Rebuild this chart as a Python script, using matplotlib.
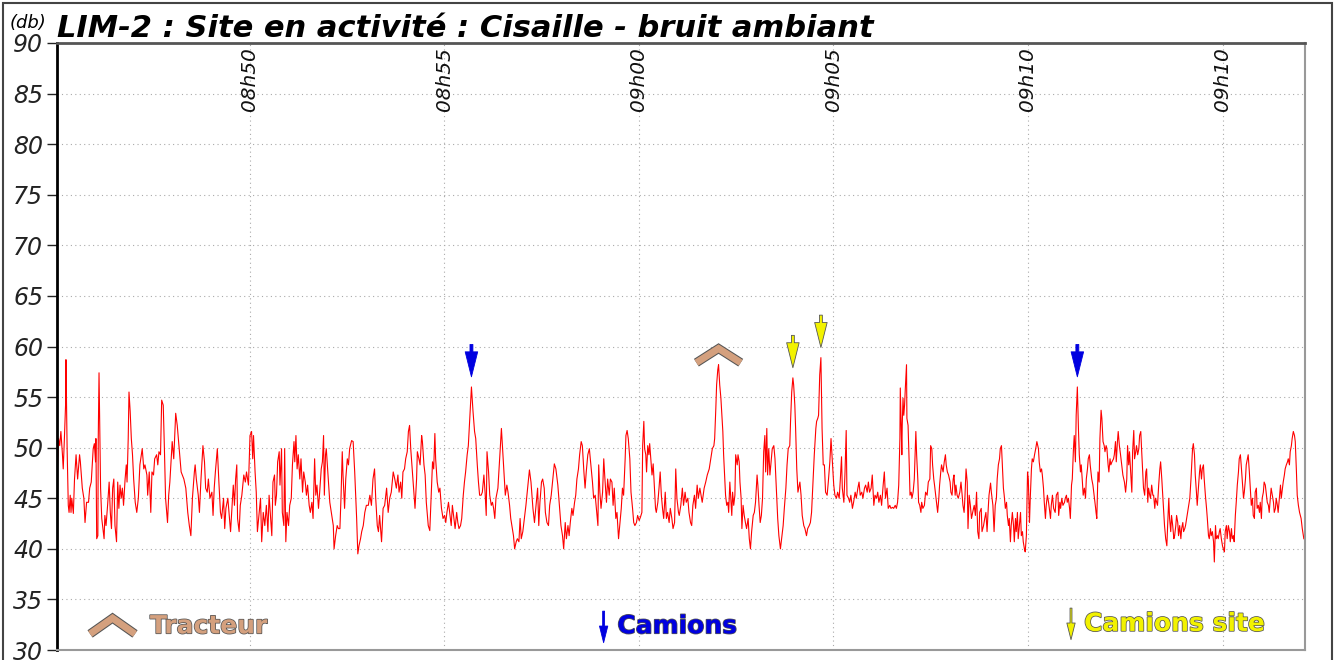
import numpy as np
import matplotlib
matplotlib.use("Agg")
import matplotlib.pyplot as plt
import matplotlib.patheffects as pe
from matplotlib.patches import Rectangle

# time in minutes after 08h45, level in dB
seg_a_t = [0.05, 0.09, 0.12, 0.15, 0.19, 0.21, 0.24, 0.27, 0.28, 0.31,
           0.34, 0.36, 0.39, 0.41, 0.43, 0.47, 0.50, 0.54, 0.58, 0.63,
           0.65, 0.70, 0.74, 0.77, 0.81, 0.86, 0.89, 0.93, 0.98, 1.01,
           1.04, 1.05, 1.07, 1.10, 1.11, 1.13, 1.15, 1.17, 1.20, 1.26,
           1.28, 1.31, 1.35, 1.39, 1.42, 1.45, 1.48, 1.51, 1.54, 1.58,
           1.61, 1.64, 1.67, 1.70, 1.73, 1.76, 1.80, 1.83, 1.85, 1.88,
           1.90, 1.93, 1.96, 1.99, 2.02, 2.06, 2.10, 2.14, 2.18, 2.24,
           2.28, 2.31, 2.36, 2.38, 2.42, 2.46, 2.49, 2.53, 2.56, 2.61,
           2.64, 2.67, 2.71, 2.74, 2.78, 2.81, 2.84, 2.89, 2.92, 2.95,
           2.98, 3.01, 3.05, 3.10, 3.14, 3.19, 3.24, 3.31, 3.36, 3.41,
           3.45, 3.49, 3.53, 3.58, 3.60, 3.63, 3.68, 3.71, 3.75, 3.80,
           3.84, 3.87, 3.91, 3.94, 3.98, 4.03, 4.06, 4.09, 4.12, 4.17,
           4.21, 4.25, 4.28, 4.33, 4.36, 4.39, 4.44, 4.47, 4.51, 4.54,
           4.58, 4.61, 4.64, 4.67, 4.69, 4.73, 4.76, 4.80, 4.85, 4.89,
           4.92, 4.97, 5.01, 5.05, 5.08, 5.10, 5.14, 5.17, 5.20, 5.24,
           5.28, 5.31]
seg_a_db = [46.9, 50.9, 50.2, 51.6, 49.3, 47.9, 50.9, 54.2, 58.7, 49.9,
            44.3, 43.6, 45.3, 43.6, 45.0, 43.5, 46.9, 49.3, 46.9, 49.3,
            48.6, 46.0, 45.0, 42.6, 44.6, 44.6, 46.0, 46.6, 49.9, 50.4,
            48.6, 50.9, 41.0, 41.3, 50.9, 57.4, 51.6, 46.0, 43.0, 41.0,
            43.3, 42.3, 44.3, 46.6, 43.6, 42.0, 46.0, 46.9, 42.3, 40.7,
            46.6, 44.0, 46.3, 45.0, 46.0, 44.3, 46.9, 48.3, 46.6, 50.9,
            55.5, 53.6, 50.9, 49.3, 46.9, 44.6, 43.6, 45.0, 48.3, 49.9,
            47.9, 48.3, 47.3, 45.3, 47.6, 43.6, 47.6, 47.3, 48.9, 49.3,
            48.3, 49.6, 49.3, 54.7, 54.2, 49.9, 45.0, 42.6, 45.3, 46.6,
            48.6, 50.6, 48.9, 53.4, 52.2, 49.9, 47.6, 46.9, 46.0, 43.6,
            42.3, 41.3, 45.0, 47.6, 48.3, 46.9, 45.3, 43.6, 46.9, 50.2,
            48.6, 46.0, 45.6, 46.9, 45.0, 45.6, 43.3, 46.0, 47.6, 49.9,
            46.6, 43.6, 43.0, 45.0, 42.0, 44.0, 45.0, 43.6, 41.7, 43.6,
            46.3, 44.3, 46.9, 48.3, 43.0, 41.7, 44.3, 45.3, 47.3, 46.6,
            47.6, 46.3, 51.2, 51.6, 48.9, 51.2, 47.6, 45.6, 41.7, 43.3,
            45.0, 40.7]

seg_b_t = [5.35, 5.39, 5.43, 5.47, 5.50, 5.54, 5.57, 5.60, 5.64, 5.66,
           5.69, 5.72, 5.76, 5.78, 5.82, 5.84, 5.88, 5.90, 5.93, 5.96,
           6.00, 6.03, 6.07, 6.10, 6.14, 6.16, 6.19, 6.22, 6.25, 6.29,
           6.32, 6.36, 6.39, 6.43, 6.46, 6.49, 6.53, 6.56, 6.60, 6.63,
           6.67, 6.70, 6.73, 6.77, 6.80, 6.84, 6.87, 6.90, 6.92, 6.95,
           6.97, 7.02, 7.06, 7.10, 7.15, 7.17, 7.21, 7.25, 7.28, 7.32,
           7.35, 7.38, 7.40, 7.44, 7.47, 7.51, 7.54, 7.57, 7.62, 7.66,
           7.70, 7.75, 7.78, 7.81, 7.85, 7.88, 7.92, 7.96, 8.00, 8.05,
           8.09, 8.13, 8.17, 8.21, 8.24, 8.28, 8.31, 8.34, 8.39, 8.43,
           8.47, 8.52, 8.56, 8.60, 8.64, 8.69, 8.73, 8.77, 8.81, 8.84,
           8.88, 8.91, 8.94, 8.98, 9.01, 9.05, 9.08, 9.11, 9.14, 9.17,
           9.20, 9.23, 9.25, 9.29, 9.31, 9.35, 9.38, 9.42, 9.44, 9.48,
           9.51, 9.54, 9.59, 9.63, 9.66, 9.70, 9.73, 9.76, 9.78, 9.82,
           9.86, 9.89, 9.93, 9.97, 10.01, 10.04, 10.07, 10.11, 10.14, 10.18,
           10.21, 10.25, 10.28, 10.32, 10.35, 10.38, 10.42, 10.45, 10.49, 10.52,
           10.55, 10.59, 10.62, 10.66, 10.70]
seg_b_db = [43.6, 42.3, 44.3, 41.7, 45.3, 43.0, 41.3, 46.6, 47.3, 44.3,
            45.3, 48.6, 49.6, 46.3, 49.9, 43.6, 42.3, 49.9, 40.7, 43.6,
            42.3, 44.3, 45.0, 48.3, 50.6, 48.6, 51.2, 47.9, 49.3, 46.9,
            48.9, 45.6, 47.6, 46.6, 45.3, 46.3, 44.3, 43.6, 44.6, 43.0,
            48.9, 45.3, 46.3, 44.0, 45.6, 47.9, 48.6, 51.2, 45.3, 49.3,
            49.9, 46.9, 44.6, 43.6, 42.3, 40.0, 41.3, 42.3, 42.0, 42.0,
            45.3, 49.6, 47.3, 44.0, 46.9, 48.9, 48.3, 49.9, 50.7, 50.6,
            47.6, 43.0, 39.5, 40.3, 41.0, 41.7, 42.3, 43.6, 44.3, 44.3,
            45.3, 44.3, 46.9, 47.9, 45.0, 42.3, 41.7, 43.3, 40.7, 44.0,
            44.3, 46.0, 43.6, 45.0, 45.6, 47.6, 46.9, 46.0, 47.3, 45.6,
            46.6, 45.0, 47.6, 47.9, 48.9, 49.6, 51.6, 52.2, 49.9, 48.3,
            46.6, 45.0, 44.0, 46.9, 49.6, 48.9, 48.3, 51.2, 50.6, 48.3,
            47.3, 44.6, 42.3, 41.8, 44.6, 48.6, 47.9, 51.4, 48.9, 46.6,
            45.6, 46.0, 44.0, 43.0, 43.3, 42.6, 43.6, 44.6, 43.6, 42.3,
            44.3, 43.0, 42.0, 43.6, 42.6, 42.0, 42.3, 43.0, 45.3, 46.6,
            47.6, 49.3, 50.2, 53.2, 56.0]

seg_c_t = [10.74, 10.78, 10.81, 10.85, 10.88, 10.91, 10.95, 10.98, 11.02, 11.05,
           11.08, 11.10, 11.14, 11.17, 11.21, 11.24, 11.27, 11.30, 11.33, 11.38,
           11.41, 11.44, 11.47, 11.50, 11.54, 11.57, 11.61, 11.64, 11.68, 11.71,
           11.74, 11.78, 11.81, 11.85, 11.88, 11.92, 11.95, 11.98, 12.02, 12.06,
           12.10, 12.15, 12.19, 12.23, 12.28, 12.32, 12.36, 12.40, 12.43, 12.46,
           12.50, 12.53, 12.57, 12.60, 12.64, 12.68, 12.71, 12.75, 12.79, 12.83,
           12.87, 12.92, 12.96, 13.00, 13.04, 13.07, 13.11, 13.14, 13.18, 13.21,
           13.24, 13.28, 13.31, 13.35, 13.38, 13.41, 13.45, 13.48, 13.52, 13.55,
           13.59, 13.62, 13.65, 13.69, 13.73, 13.77, 13.81, 13.84, 13.88, 13.91,
           13.95, 13.97, 14.00, 14.03, 14.07, 14.10, 14.13, 14.17, 14.20, 14.24,
           14.27, 14.31, 14.34, 14.37, 14.41, 14.44, 14.48, 14.51, 14.55, 14.58,
           14.61, 14.65, 14.67, 14.70, 14.73, 14.77, 14.80, 14.84, 14.87, 14.90,
           14.94, 14.97, 15.01, 15.04, 15.08, 15.10, 15.13, 15.15, 15.18, 15.20,
           15.23, 15.26, 15.28, 15.32, 15.34, 15.37, 15.40, 15.43, 15.45, 15.49,
           15.52, 15.55, 15.58, 15.61, 15.64, 15.68, 15.71, 15.74, 15.78, 15.81,
           15.85, 15.88, 15.92, 15.95, 15.98, 16.02]
seg_c_db = [53.6, 51.6, 50.9, 48.3, 46.6, 45.3, 45.3, 45.6, 47.3, 45.6,
            43.3, 49.6, 47.6, 45.3, 44.3, 44.6, 44.0, 43.0, 45.0, 46.0,
            47.9, 49.9, 51.9, 49.9, 47.3, 45.3, 46.3, 45.6, 44.3, 43.0,
            42.3, 41.3, 40.0, 40.7, 41.0, 40.7, 43.0, 41.0, 41.7, 43.0,
            44.3, 46.3, 47.8, 46.6, 44.0, 42.6, 44.3, 46.0, 42.3, 44.6,
            46.6, 46.9, 46.0, 43.6, 42.6, 42.3, 44.3, 45.3, 46.9, 48.4,
            47.9, 46.3, 44.3, 42.3, 41.3, 40.0, 42.6, 41.0, 42.3, 41.3,
            42.6, 44.0, 43.3, 44.6, 45.3, 46.9, 47.9, 49.3, 50.6, 50.2,
            47.6, 46.0, 47.6, 49.3, 49.9, 48.3, 46.6, 45.0, 45.3, 44.0,
            42.3, 48.3, 45.6, 44.0, 45.6, 48.9, 46.9, 44.6, 46.9, 45.3,
            46.9, 46.6, 44.3, 46.0, 43.0, 43.6, 41.0, 42.3, 44.0, 46.0,
            45.3, 48.9, 51.2, 51.7, 50.9, 48.9, 45.6, 44.0, 42.6, 42.3,
            42.6, 43.3, 42.8, 43.1, 43.6, 50.2, 52.6, 49.9, 49.3, 47.6,
            50.2, 49.3, 50.4, 48.3, 47.3, 48.4, 46.3, 44.0, 43.6, 44.6,
            46.0, 47.6, 45.3, 44.0, 43.0, 45.6, 43.0, 43.6, 42.6, 44.0,
            43.0, 42.0, 42.6, 47.9, 45.0, 43.6]

seg_d_t = [16.04, 16.08, 16.12, 16.15, 16.19, 16.22, 16.26, 16.29, 16.33, 16.36,
           16.39, 16.43, 16.46, 16.50, 16.53, 16.57, 16.60, 16.63, 16.68, 16.72,
           16.76, 16.81, 16.85, 16.89, 16.93, 16.95, 16.98, 17.00, 17.03, 17.05,
           17.08, 17.11, 17.13, 17.16, 17.18, 17.21, 17.23, 17.26, 17.29, 17.31,
           17.34, 17.36, 17.39, 17.41, 17.44, 17.47, 17.49, 17.53, 17.55, 17.58,
           17.60, 17.63, 17.65, 17.68, 17.71, 17.74, 17.77, 17.81, 17.84, 17.87,
           17.90, 17.94, 17.97, 18.00, 18.04, 18.06, 18.09, 18.12, 18.15, 18.18,
           18.21, 18.24, 18.26, 18.29, 18.31, 18.34, 18.37, 18.40, 18.43, 18.47,
           18.50, 18.54, 18.57, 18.60, 18.64, 18.67, 18.71, 18.74, 18.78, 18.81,
           18.84, 18.88, 18.90, 18.93, 18.96, 18.98, 19.01, 19.03, 19.06, 19.09,
           19.14, 19.17, 19.20, 19.24, 19.27, 19.31, 19.34, 19.38, 19.41, 19.44,
           19.48, 19.51, 19.55, 19.57, 19.60, 19.62, 19.65, 19.68, 19.71, 19.74,
           19.77, 19.80, 19.84, 19.87, 19.91, 19.94, 19.98, 20.01, 20.04, 20.08,
           20.11, 20.15, 20.18, 20.21, 20.23, 20.27, 20.30, 20.33, 20.35, 20.39,
           20.42, 20.45, 20.49, 20.52, 20.56, 20.59, 20.63, 20.66, 20.69, 20.73,
           20.76, 20.80, 20.83, 20.87, 20.90, 20.93, 20.97, 21.00, 21.04, 21.07,
           21.11, 21.14, 21.17, 21.21, 21.24, 21.28, 21.31, 21.34]
seg_d_db = [43.3, 44.3, 46.0, 44.3, 45.6, 44.6, 45.0, 43.6, 42.6, 42.3,
            44.3, 45.3, 44.0, 46.3, 45.0, 46.0, 45.3, 44.6, 46.0, 46.6,
            47.3, 47.9, 48.9, 49.9, 50.2, 50.9, 53.9, 56.2, 57.7, 58.2,
            56.2, 54.9, 53.6, 51.6, 49.3, 46.9, 45.3, 44.3, 44.6, 43.6,
            46.6, 45.3, 43.3, 45.6, 44.3, 45.3, 49.3, 48.3, 49.3, 48.6,
            46.6, 45.0, 42.0, 44.3, 43.3, 42.6, 42.0, 43.0, 41.0, 40.0,
            41.7, 43.3, 43.6, 44.6, 47.3, 46.3, 44.3, 42.6, 43.3, 45.0,
            49.6, 51.2, 47.6, 51.9, 47.3, 49.9, 47.3, 48.6, 49.9, 50.2,
            48.9, 45.6, 43.0, 41.3, 40.0, 41.0, 42.3, 44.0, 46.0, 48.3,
            49.9, 50.2, 52.6, 55.5, 56.9, 56.2, 54.2, 51.9, 47.9, 45.6,
            46.6, 45.3, 43.3, 42.3, 42.0, 41.3, 42.0, 42.3, 42.6, 43.6,
            46.9, 49.3, 51.9, 52.6, 52.9, 53.2, 57.2, 58.9, 51.9, 48.3,
            48.3, 45.6, 45.3, 46.6, 48.6, 50.9, 48.3, 46.3, 45.3, 45.0,
            45.6, 45.0, 46.9, 49.1, 46.0, 44.6, 47.6, 51.7, 45.3, 45.0,
            44.6, 45.3, 44.0, 44.6, 45.6, 45.0, 46.0, 46.6, 45.3, 45.6,
            45.0, 46.0, 46.3, 45.6, 46.6, 45.6, 46.0, 47.3, 44.3, 45.3,
            45.0, 45.6, 44.6, 45.3, 44.3, 46.3, 47.6, 45.0]

seg_e_t = [21.38, 21.41, 21.45, 21.48, 21.52, 21.55, 21.59, 21.62, 21.65, 21.68,
           21.71, 21.72, 21.74, 21.76, 21.77, 21.79, 21.81, 21.83, 21.85, 21.88,
           21.89, 21.92, 21.95, 21.97, 22.00, 22.02, 22.05, 22.08, 22.12, 22.14,
           22.17, 22.19, 22.22, 22.25, 22.27, 22.30, 22.34, 22.37, 22.41, 22.44,
           22.48, 22.50, 22.53, 22.55, 22.58, 22.60, 22.63, 22.66, 22.68, 22.71,
           22.73, 22.76, 22.78, 22.82, 22.85, 22.88, 22.90, 22.93, 22.96, 23.00,
           23.02, 23.05, 23.08, 23.10, 23.13, 23.15, 23.18, 23.21, 23.25, 23.28,
           23.31, 23.33, 23.36, 23.38, 23.41, 23.44, 23.46, 23.49, 23.52, 23.55,
           23.58, 23.62, 23.65, 23.68, 23.71, 23.74, 23.76, 23.80, 23.82, 23.86,
           23.89, 23.92, 23.95, 23.98, 24.00, 24.04, 24.06, 24.10, 24.13, 24.16,
           24.19, 24.21, 24.24, 24.27, 24.29, 24.32, 24.34, 24.37, 24.39, 24.42,
           24.45, 24.47, 24.50, 24.52, 24.55, 24.57, 24.60, 24.63, 24.65, 24.68,
           24.70, 24.73, 24.75, 24.78, 24.81, 24.83, 24.86, 24.88, 24.91, 24.93,
           24.96, 24.99, 25.01, 25.04, 25.06, 25.09, 25.11, 25.14, 25.17, 25.20,
           25.23, 25.27, 25.29, 25.32, 25.35, 25.37, 25.40, 25.42, 25.45, 25.47,
           25.50, 25.53, 25.55, 25.58, 25.60, 25.63, 25.66, 25.70, 25.73, 25.77,
           25.79, 25.82, 25.84, 25.87, 25.90, 25.94, 25.96, 25.99, 26.01, 26.04,
           26.07, 26.09, 26.12, 26.14, 26.17, 26.19, 26.22, 26.24, 26.27, 26.30,
           26.32, 26.35, 26.37, 26.40, 26.42, 26.45, 26.48, 26.50, 26.53, 26.55,
           26.58, 26.60, 26.64, 26.67, 26.71, 26.74]
seg_e_db = [46.0, 44.0, 44.3, 44.0, 44.1, 44.0, 44.3, 44.0, 44.6, 46.3,
            50.9, 55.9, 52.6, 49.3, 52.2, 54.9, 53.2, 54.2, 55.9, 58.2,
            52.9, 52.2, 48.3, 45.3, 45.6, 45.0, 45.6, 46.9, 51.6, 49.3,
            46.9, 44.6, 44.3, 43.6, 44.6, 44.0, 44.3, 45.6, 45.3, 46.6,
            46.9, 50.2, 49.9, 48.3, 46.9, 46.3, 45.3, 44.3, 43.6, 45.0,
            46.3, 47.6, 48.3, 47.6, 48.6, 49.3, 48.3, 47.6, 47.3, 46.6,
            45.6, 45.3, 46.9, 47.3, 45.3, 46.3, 45.3, 45.0, 45.6, 46.6,
            45.3, 44.3, 43.6, 45.0, 47.9, 46.6, 42.0, 45.3, 44.3, 43.0,
            43.6, 44.3, 43.3, 45.6, 41.7, 41.0, 43.6, 44.0, 41.7, 42.3,
            43.0, 43.6, 41.7, 44.0, 45.3, 46.5, 45.6, 44.3, 41.7, 44.3,
            45.0, 46.9, 48.3, 48.9, 49.9, 50.2, 48.6, 46.0, 45.3, 44.0,
            44.6, 43.3, 42.3, 43.0, 40.7, 42.3, 43.6, 42.3, 40.7, 43.0,
            41.7, 43.6, 41.0, 42.3, 43.6, 41.3, 41.7, 40.7, 40.0, 39.7,
            41.3, 47.6, 46.9, 42.6, 45.0, 47.9, 48.9, 48.6, 49.3, 49.9,
            50.6, 49.9, 48.6, 47.6, 47.9, 47.3, 46.0, 44.6, 43.0, 44.3,
            45.3, 44.6, 44.0, 43.0, 44.3, 45.3, 44.0, 43.6, 45.3, 45.6,
            43.3, 44.6, 44.0, 45.0, 44.3, 44.6, 45.0, 45.3, 44.6, 45.0,
            44.0, 43.0, 46.3, 46.9, 49.9, 51.2, 48.6, 53.2, 56.0, 51.6,
            49.3, 47.6, 48.3, 46.6, 45.3, 46.0, 45.0, 46.9, 47.9, 48.9,
            49.3, 48.3, 46.9, 46.3, 45.0, 44.0]

seg_f_t = [26.75, 26.77, 26.80, 26.83, 26.85, 26.88, 26.90, 26.93, 26.96, 26.98,
           27.01, 27.03, 27.06, 27.08, 27.11, 27.13, 27.16, 27.20, 27.22, 27.25,
           27.27, 27.30, 27.32, 27.35, 27.38, 27.41, 27.44, 27.48, 27.51, 27.54,
           27.56, 27.59, 27.61, 27.64, 27.67, 27.69, 27.72, 27.74, 27.77, 27.79,
           27.82, 27.85, 27.87, 27.90, 27.92, 27.95, 27.97, 28.00, 28.03, 28.05,
           28.08, 28.10, 28.13, 28.15, 28.18, 28.21, 28.23, 28.26, 28.28, 28.31,
           28.33, 28.36, 28.39, 28.41, 28.44, 28.46, 28.49, 28.51, 28.54, 28.57,
           28.59, 28.62, 28.64, 28.67, 28.69, 28.72, 28.75, 28.77, 28.80, 28.82,
           28.85, 28.87, 28.90, 28.93, 28.95, 28.98, 29.00, 29.03, 29.05, 29.09,
           29.12, 29.16, 29.19, 29.23, 29.25, 29.28, 29.30, 29.33, 29.35, 29.38,
           29.41, 29.43, 29.46, 29.48, 29.51, 29.53, 29.56, 29.59, 29.61, 29.64,
           29.66, 29.69, 29.71, 29.74, 29.77, 29.79, 29.82, 29.84, 29.87, 29.89,
           29.92, 29.94, 29.97, 30.00, 30.02, 30.05, 30.07, 30.10, 30.12, 30.15,
           30.18, 30.20, 30.23, 30.25, 30.28, 30.30, 30.33, 30.36, 30.38, 30.41,
           30.43, 30.46, 30.48, 30.51, 30.54, 30.56, 30.59, 30.61, 30.64, 30.66,
           30.69, 30.72, 30.74, 30.77, 30.79, 30.82, 30.84, 30.87, 30.89, 30.92,
           30.95, 30.97, 31.00, 31.02, 31.05, 31.07, 31.10, 31.13, 31.15, 31.18,
           31.20, 31.23, 31.25, 31.28, 31.31, 31.33, 31.36, 31.38, 31.41, 31.43,
           31.46, 31.49, 31.51, 31.54, 31.56, 31.59, 31.61, 31.64, 31.67, 31.69,
           31.72, 31.74, 31.77, 31.79, 31.82, 31.85, 31.87, 31.90, 31.92, 31.95,
           31.98, 32.02, 32.05, 32.09]
seg_f_db = [43.6, 43.0, 47.6, 46.6, 50.9, 53.7, 52.9, 50.6, 50.2, 49.6,
            50.2, 49.9, 48.3, 47.6, 48.9, 48.3, 48.6, 48.9, 49.3, 50.6,
            48.6, 50.6, 51.6, 50.2, 49.3, 48.3, 47.3, 46.6, 45.6, 46.9,
            50.2, 48.3, 49.6, 47.6, 45.6, 49.6, 51.7, 48.9, 49.6, 50.2,
            49.3, 49.9, 51.2, 51.6, 49.9, 47.6, 46.0, 45.3, 47.6, 47.9,
            44.6, 46.0, 45.3, 45.0, 46.3, 45.3, 45.3, 44.0, 45.0, 44.6,
            44.3, 46.3, 47.9, 48.6, 46.9, 45.6, 43.6, 42.3, 41.0, 40.3,
            42.3, 45.0, 43.0, 41.7, 43.3, 42.3, 41.0, 41.3, 42.3, 43.3,
            42.6, 41.3, 42.3, 41.0, 42.0, 42.6, 41.7, 42.0, 42.3, 43.3,
            44.0, 45.0, 46.9, 49.9, 50.4, 49.3, 47.3, 45.6, 44.3, 46.0,
            47.6, 48.3, 46.9, 47.9, 48.3, 46.9, 45.3, 44.0, 43.0, 41.3,
            41.0, 42.0, 41.3, 41.7, 40.7, 38.7, 42.3, 41.0, 41.3, 41.0,
            41.7, 42.0, 41.0, 40.3, 40.0, 39.7, 41.7, 42.3, 41.0, 42.3,
            41.7, 40.7, 42.0, 41.0, 41.3, 40.7, 43.3, 45.0, 46.3, 47.6,
            48.9, 49.3, 48.3, 46.6, 45.0, 45.6, 46.9, 48.3, 48.9, 49.3,
            47.6, 45.6, 44.3, 45.0, 43.3, 43.0, 45.6, 46.0, 44.0, 44.3,
            43.6, 44.6, 43.0, 45.0, 45.6, 46.6, 46.3, 45.3, 44.6, 44.3,
            43.6, 45.0, 46.0, 45.3, 44.6, 43.6, 44.0, 45.0, 44.3, 43.6,
            45.0, 46.3, 45.0, 46.0, 46.6, 47.3, 47.9, 48.3, 48.6, 48.9,
            48.3, 49.6, 50.2, 50.9, 51.6, 51.2, 50.6, 47.6, 45.3, 44.3,
            43.6, 43.0, 42.0, 41.0]

tick_minutes = [5, 10, 15, 20, 25, 30]
tick_labels = ["08h50", "08h55", "09h00", "09h05", "09h10", "09h10"]

# events marked on the trace (minutes after 08h45)
tracteur_events = [17.05]
camions_events = [10.70, 26.27]
camions_site_events = [18.96, 19.68]

TAN = "#d4a07e"
BLUE = "#0000e0"
YELLOW = "#f2f200"
OUTLINE = "#555555"

t = np.array(seg_a_t + seg_b_t + seg_c_t + seg_d_t + seg_e_t + seg_f_t)
db = np.array(seg_a_db + seg_b_db + seg_c_db + seg_d_db + seg_e_db + seg_f_db)

fig = plt.figure(figsize=(13.36, 6.6), dpi=100)
fig.patches.append(Rectangle((0.002, -0.01), 0.995, 1.005, transform=fig.transFigure,
                             fill=False, edgecolor="#444444", lw=1.5))
ax = fig.add_axes([57 / 1336, 1 - 650 / 660, 1248 / 1336, 607 / 660])

ax.plot(t, db, color="#ff0000", lw=0.8)

ax.set_xlim(0.05, 32.12)
ax.set_ylim(30, 90)
ax.set_yticks(range(30, 91, 5))
ax.set_xticks(tick_minutes)
ax.tick_params(axis="x", length=0, labelbottom=False)
ax.tick_params(axis="y", length=7, width=1, labelsize=17, pad=3, colors="#222222")
for lab in ax.get_yticklabels():
    lab.set_fontstyle("italic")
ax.grid(True, color="#aaaaaa", lw=0.8, linestyle=(0, (1, 3)))

for x, lab in zip(tick_minutes, tick_labels):
    ax.text(x, 89.6, lab, rotation=90, ha="center", va="top",
            fontsize=14.5, fontstyle="italic", color="#111111")

ax.spines["left"].set_linewidth(2)
ax.spines["left"].set_color("black")
ax.spines["top"].set_linewidth(2)
ax.spines["top"].set_color("#555555")
ax.spines["right"].set_color("#999999")
ax.spines["right"].set_linewidth(1.5)
ax.spines["bottom"].set_color("#999999")
ax.spines["bottom"].set_linewidth(1.5)


def peak_near(x, width=0.12):
    m = (t > x - width) & (t < x + width)
    return db[m].max()


def draw_arrow(x0, y_tip, length, color, edge, trans, scale):
    ax.annotate("", xy=(x0, y_tip), xytext=(x0, y_tip + length),
                xycoords=trans, textcoords=trans,
                arrowprops=dict(arrowstyle="simple,head_length=1.2,head_width=0.6,tail_width=0.14",
                                fc=color, ec=edge, lw=0.6, mutation_scale=scale,
                                shrinkA=0, shrinkB=0))


def draw_chevron(xc, y_top, half_w, drop, trans):
    ax.plot([xc - half_w, xc, xc + half_w], [y_top - drop, y_top, y_top - drop],
            color=TAN, lw=5, transform=trans, solid_joinstyle="miter",
            solid_capstyle="butt", clip_on=False,
            path_effects=[pe.Stroke(linewidth=6.5, foreground=OUTLINE, capstyle="butt",
                                    joinstyle="miter"), pe.Normal()])


for x in camions_events:
    draw_arrow(x, peak_near(x) + 1.0, 3.2, BLUE, BLUE, "data", 15)
for x in camions_site_events:
    draw_arrow(x, peak_near(x) + 1.0, 3.2, YELLOW, OUTLINE, "data", 15)
for x in tracteur_events:
    draw_chevron(x, peak_near(x) + 1.6, 0.57, 1.4, ax.transData)

# legend
outline = [pe.withStroke(linewidth=1.1, foreground=OUTLINE)]
draw_chevron(0.0445, 0.0525, 0.018, 0.026, ax.transAxes)
ax.text(0.0745, 0.039, "Tracteur", transform=ax.transAxes, ha="left", va="center",
        fontsize=18, fontweight="bold", color=TAN, path_effects=outline)
draw_arrow(0.438, 0.012, 0.052, BLUE, BLUE, "axes fraction", 10)
ax.text(0.449, 0.039, "Camions", transform=ax.transAxes, ha="left", va="center",
        fontsize=18, fontweight="bold", color=BLUE, path_effects=outline)
draw_arrow(0.8125, 0.017, 0.052, YELLOW, OUTLINE, "axes fraction", 10)
ax.text(0.823, 0.043, "Camions site", transform=ax.transAxes, ha="left", va="center",
        fontsize=18, fontweight="bold", color=YELLOW, path_effects=outline)

fig.text(57 / 1336, 1 - 37 / 660, "LIM-2 : Site en activité : Cisaille - bruit ambiant",
         ha="left", va="baseline", fontsize=22, fontweight="bold", fontstyle="italic")
fig.text(10 / 1336, 1 - 28 / 660, "(db)", ha="left", va="baseline",
         fontsize=13, fontstyle="italic")

fig.savefig("out.png", dpi=100)
